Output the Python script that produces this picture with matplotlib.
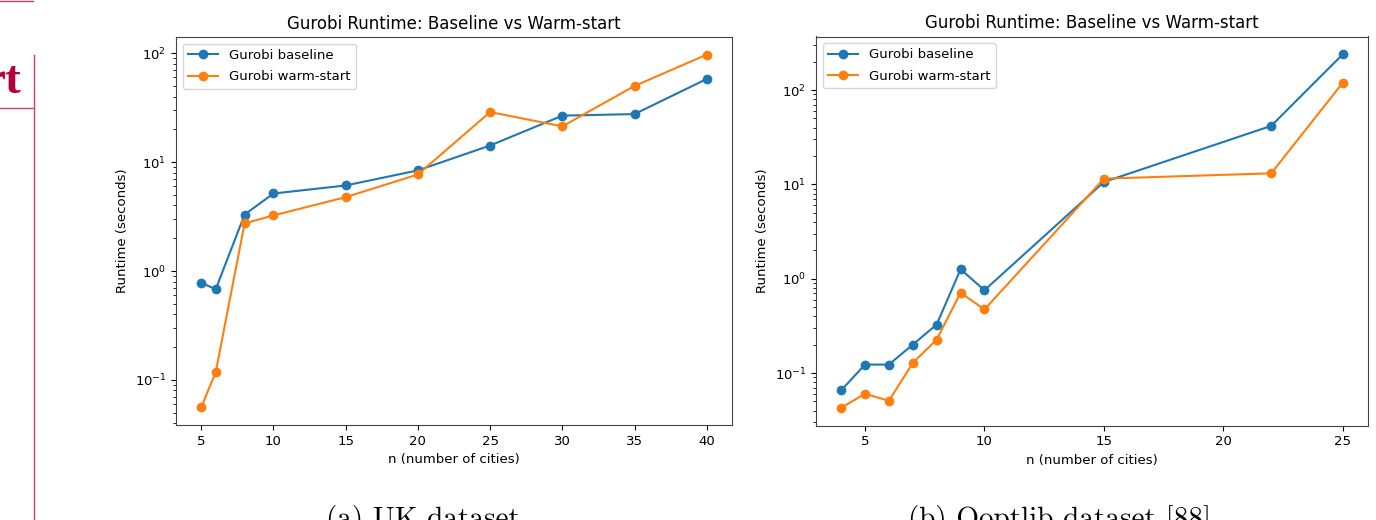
import matplotlib
matplotlib.use('Agg')
import matplotlib.pyplot as plt
from matplotlib.lines import Line2D

# UK dataset
uk_n = [5, 6, 8, 10, 15, 20, 25, 30, 35, 40]
uk_baseline = [0.78, 0.68, 3.3, 5.15, 6.1, 8.4, 14.2, 26.7, 27.6, 58]
uk_warm = [0.056, 0.118, 2.74, 3.24, 4.77, 7.7, 28.8, 21.3, 50, 97]

# Qoptlib dataset
qopt_n = [4, 5, 6, 7, 8, 9, 10, 15, 22, 25]
qopt_baseline = [0.0654, 0.123, 0.123, 0.2, 0.327, 1.26, 0.755, 10.6, 41.7, 240]
qopt_warm = [0.0428, 0.0603, 0.0508, 0.128, 0.226, 0.71, 0.472, 11.5, 13.1, 120]

labels = ['Gurobi baseline', 'Gurobi warm-start']
title = 'Gurobi Runtime: Baseline vs Warm-start'
captions = ['(a) UK dataset', '(b) Qoptlib dataset [88]']

W, H = 1376, 520
fig = plt.figure(figsize=(W / 100, H / 100), dpi=100)

ax1 = fig.add_axes([176 / W, 1 - 425 / H, 556 / W, 388 / H])
ax2 = fig.add_axes([816 / W, 1 - 425.5 / H, 552 / W, 389 / H])


def draw(ax, n, base, warm):
    ax.plot(n, base, marker='o', color='tab:blue', label=labels[0])
    ax.plot(n, warm, marker='o', color='tab:orange', label=labels[1])
    ax.set_yscale('log')
    ax.set_title(title, fontsize=12)
    ax.set_xlabel('n (number of cities)', fontsize=9.5)
    ax.set_ylabel('Runtime (seconds)', fontsize=9.5)
    ax.tick_params(labelsize=9.5)
    for s in ax.spines.values():
        s.set_color('#444444')
    ax.legend(loc='upper left', fontsize=9.5, handlelength=2.3,
              labelspacing=0.65)


draw(ax1, uk_n, uk_baseline, uk_warm)
draw(ax2, qopt_n, qopt_baseline, qopt_warm)

# captions from the paper page, cut off at the bottom
fig.text(423 / W, -7 / H, captions[0], ha='center', va='baseline',
         fontfamily='cmr10', fontsize=21)
fig.text(1060 / W, -7 / H, captions[1], ha='center', va='baseline',
         fontfamily='cmr10', fontsize=21)

# bits of the neighbouring page box on the left
box_col = '#d2416e'
fig.add_artist(Line2D([0, 33 / W], [1 - 1 / H, 1 - 1 / H], color=box_col, lw=1))
fig.add_artist(Line2D([34 / W, 34 / W], [1 - 55 / H, 0], color=box_col, lw=1))
fig.add_artist(Line2D([0, 34 / W], [1 - 108 / H, 1 - 108 / H], color=box_col, lw=1))
fig.text(22 / W, 1 - 93 / H, 'rt', ha='right', va='baseline',
         fontfamily='Liberation Serif', fontweight='bold', fontsize=34,
         color='#b3003c')

fig.savefig('out.png', dpi=100)
